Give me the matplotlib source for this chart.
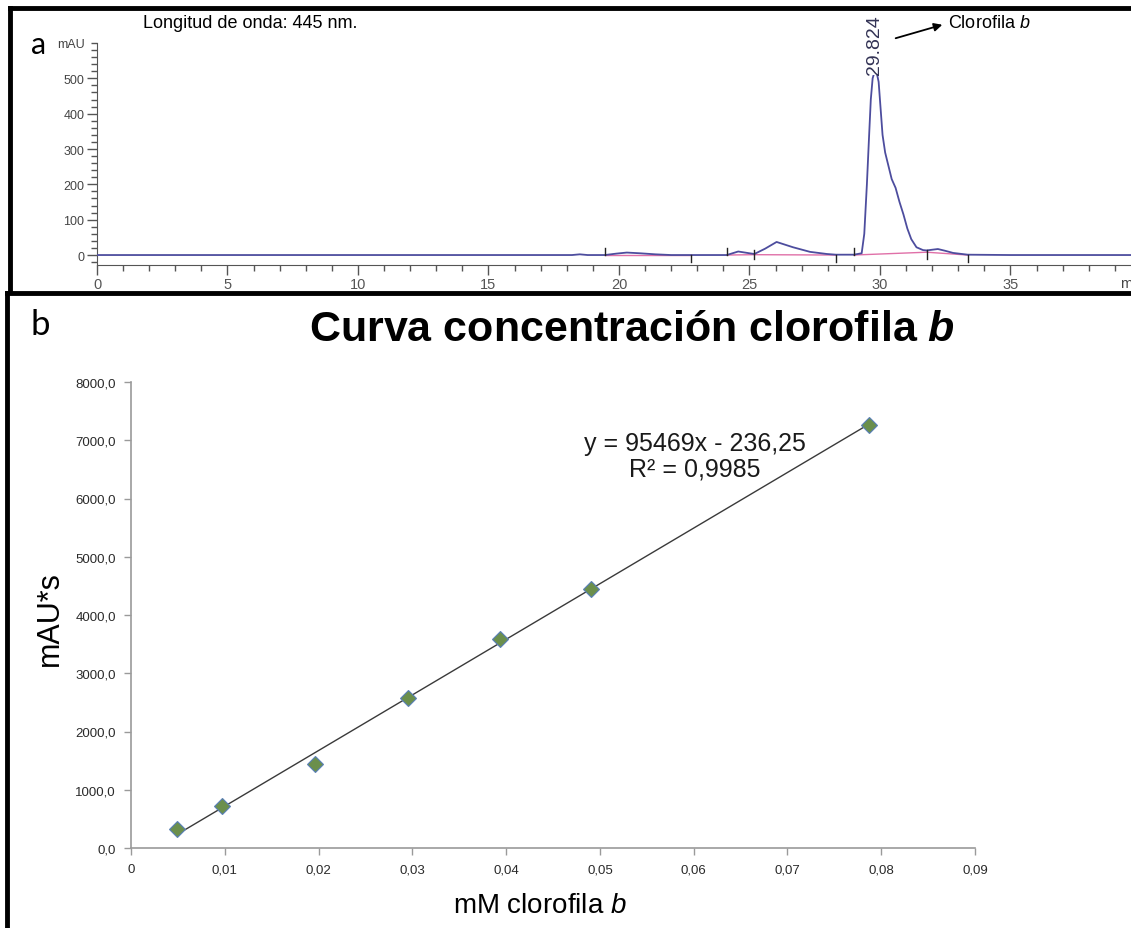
import numpy as np
import matplotlib
matplotlib.use("Agg")
import matplotlib.pyplot as plt
from matplotlib.ticker import MultipleLocator, FuncFormatter
from matplotlib.lines import Line2D

plt.rcParams['font.family'] = ['Liberation Sans', 'DejaVu Sans']
plt.rcParams['mathtext.fontset'] = 'custom'
plt.rcParams['mathtext.rm'] = 'Liberation Sans'
plt.rcParams['mathtext.it'] = 'Liberation Sans:italic'
plt.rcParams['mathtext.bf'] = 'Liberation Sans:bold'
plt.rcParams['mathtext.bfit'] = 'Liberation Sans:italic:bold'

# chromatogram (panel a)
t_min = [0, 15.7, 18.2, 18.5, 18.8, 19.46, 19.9, 20.3, 20.8, 21.4, 22.0, 24.13, 24.57, 25.0,
         25.19, 25.6, 26.04, 26.67, 27.32, 27.96, 28.31, 29.0, 29.3, 29.4, 29.5, 29.58, 29.65,
         29.72, 29.8, 29.88, 29.95, 30.02, 30.1, 30.2, 30.3, 30.45, 30.6, 30.75, 30.9, 31.05,
         31.2, 31.4, 31.65, 31.79, 32.0, 32.22, 32.5, 32.8, 33.36, 35.0, 39.7]
mau = [0, 0, 0, 2, 0, 0, 4, 7, 5, 2, 0, 0, 10, 5,
       3, 18, 37, 22, 9, 3, 1, 1, 5, 60, 200, 330, 440,
       500, 520, 515, 490, 420, 340, 290, 260, 215, 190, 150, 115, 75,
       45, 22, 14, 13, 15, 17, 12, 6, 1, 0, 0]

# integration baselines (start, end) and their heights
base_t = [(19.46, 22.75), (24.13, 25.19), (25.19, 28.31), (29.0, 31.79), (31.79, 33.36)]
base_v = [(0, 0), (0, 1), (1, 0), (0, 8), (8, 0)]
# integration event marks: time, direction
mark_t = [19.46, 22.75, 24.13, 25.19, 28.31, 29.0, 31.79, 33.36]
mark_d = ['up', 'down', 'up', 'both', 'down', 'up', 'both', 'down']

# calibration curve (panel b)
conc = [0.0049, 0.00975, 0.0196, 0.0295, 0.0393, 0.0491, 0.0787]
area = [325, 729, 1442, 2581, 3590, 4440, 7262]
slope = 95469
intercept = -236.25

W, H = 1131, 929
fig = plt.figure(figsize=(W / 100, H / 100), dpi=100)

# ---------- panel a ----------
ax1 = fig.add_axes([97 / W, 1 - 266 / H, (W - 97) / W, 222 / H])
ax1.plot(t_min, mau, color='#4d4d9e', lw=1.3, zorder=3)
for (t0, t1), (v0, v1) in zip(base_t, base_v):
    ax1.plot([t0, t1], [v0, v1], color='#e070a8', lw=1.0, zorder=2)
for t, d in zip(mark_t, mark_d):
    lo, hi = {'up': (0, 20), 'down': (-20, 0), 'both': (-12, 14)}[d]
    ax1.plot([t, t], [lo, hi], color='#222222', lw=1.0, zorder=4)

ax1.set_xlim(0, 39.62)
ax1.set_ylim(-28.2, 600)
ax1.spines['top'].set_visible(False)
ax1.spines['right'].set_visible(False)
ax1.spines['left'].set_color('#555555')
ax1.spines['bottom'].set_color('#555555')
ax1.xaxis.set_major_locator(MultipleLocator(5))
ax1.xaxis.set_minor_locator(MultipleLocator(1))
ax1.yaxis.set_minor_locator(MultipleLocator(20))
ax1.set_yticks([0, 100, 200, 300, 400, 500])
ax1.tick_params(axis='x', which='major', length=7, width=1, colors='#555555',
                labelsize=10.5, labelcolor='#555555', pad=1.5)
ax1.tick_params(axis='x', which='minor', length=4, width=1, colors='#555555')
ax1.tick_params(axis='y', which='major', length=7, width=1, colors='#555555',
                labelsize=9, labelcolor='#444444', pad=2)
ax1.tick_params(axis='y', which='minor', length=4, width=1, colors='#555555')

ax1.text(29.78, 680, '29.824', rotation=90, ha='center', va='top', fontsize=14,
         color='#333355', zorder=5,
         bbox=dict(facecolor='white', edgecolor='none', pad=0.2))
ax1.annotate('', xy=(945, H - 25), xycoords='figure pixels',
             xytext=(893, H - 40), textcoords='figure pixels',
             arrowprops=dict(arrowstyle='-|>', color='black', lw=1.3, mutation_scale=12))
fig.text(948 / W, 1 - 24 / H, 'Clorofila $\\it{b}$', fontsize=13, va='center', ha='left')
fig.text(143 / W, 1 - 24 / H, 'Longitud de onda: 445 nm.', fontsize=13, va='center', ha='left')
fig.text(85 / W, 1 - 45 / H, 'mAU', fontsize=9, va='center', ha='right', color='#444444')
fig.text(1120 / W, 1 - 284 / H, 'm', fontsize=10.5, va='center', ha='left', color='#444444')
fig.text(39 / W, 1 - 45 / H, 'a', fontsize=22, va='center', ha='center', family='Lato')

# ---------- panel b ----------
ax2 = fig.add_axes([131 / W, 1 - 849 / H, 844 / W, 466 / H])
xfit = np.array([conc[0], conc[-1]])
ax2.plot(xfit, slope * xfit + intercept, color='#3a3a3a', lw=1.0, zorder=2)
ax2.plot(conc, area, linestyle='none', marker='D', markersize=8,
         markerfacecolor='#6b8f4c', markeredgecolor='#5a80b8', markeredgewidth=0.8, zorder=3)
ax2.set_xlim(0, 0.09)
ax2.set_ylim(0, 8000)
ax2.xaxis.set_major_locator(MultipleLocator(0.01))
ax2.yaxis.set_major_locator(MultipleLocator(1000))
ax2.xaxis.set_major_formatter(FuncFormatter(lambda v, p: '0' if abs(v) < 1e-9 else ('%.2f' % v).replace('.', ',')))
ax2.yaxis.set_major_formatter(FuncFormatter(lambda v, p: ('%.1f' % v).replace('.', ',')))
for s in ['top', 'right']:
    ax2.spines[s].set_visible(False)
for s in ['left', 'bottom']:
    ax2.spines[s].set_color('#9a9a9a')
    ax2.spines[s].set_linewidth(1.2)
ax2.tick_params(length=5, width=1, colors='#9a9a9a', labelsize=9.5, labelcolor='#2a2a2a', pad=6)
ax2.set_xlabel('mM clorofila $\\it{b}$', fontsize=20)
ax2.xaxis.set_label_coords(0.485, -0.095)
ax2.set_ylabel('mAU*s', fontsize=22)
ax2.yaxis.set_label_coords(-0.078, 0.495)
ax2.text(0.0601, 6730, 'y = 95469x - 236,25\nR² = 0,9985', fontsize=18, ha='center',
         va='center', linespacing=1.1, color='#1a1a1a')
fig.text(632 / W, 1 - 330 / H, 'Curva concentración clorofila $\\mathbfit{b}$',
         fontsize=31, fontweight='bold', ha='center', va='center')
fig.text(40 / W, 1 - 325 / H, 'b', fontsize=25, va='center', ha='center', family='Lato')

# ---------- frames ----------
frame = dict(color='black', lw=3.5, transform=fig.transFigure, clip_on=False)
fig.add_artist(Line2D([10 / W, 1], [1 - 9 / H, 1 - 9 / H], **frame))
fig.add_artist(Line2D([10 / W, 10 / W], [1 - 9 / H, 1 - 293 / H], **frame))
fig.add_artist(Line2D([7 / W, 1], [1 - 294 / H, 1 - 294 / H], **frame))
fig.add_artist(Line2D([7 / W, 7 / W], [1 - 294 / H, 0], **frame))

fig.savefig('out.png', dpi=100)
